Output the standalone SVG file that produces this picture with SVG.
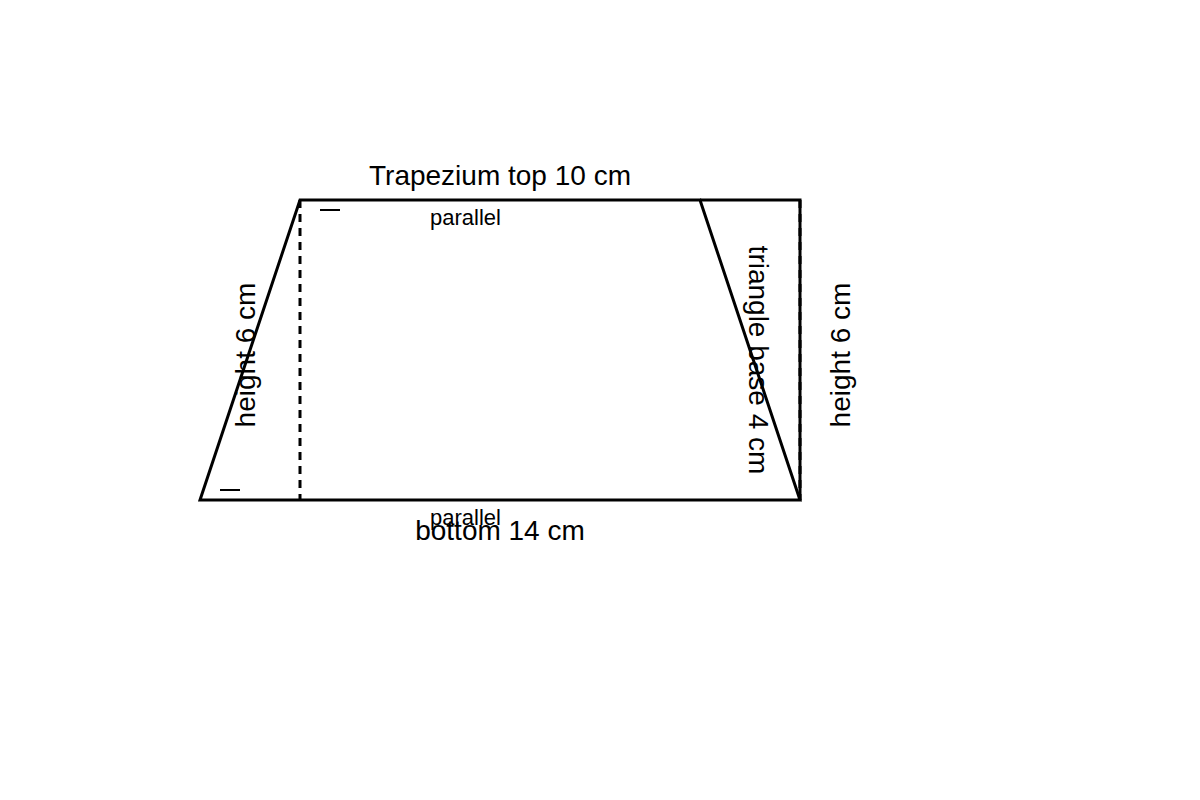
<svg xmlns="http://www.w3.org/2000/svg" width="1200" height="800" viewBox="0 0 1200 800">
<style>
.s{fill:none;stroke:#000;stroke-width:3}
.d{fill:none;stroke:#000;stroke-width:3;stroke-dasharray:8 6}
.t{stroke:#000;stroke-width:2}
text{font-family:"Liberation Sans",Arial,sans-serif;fill:#000}
.big{font-size:28px}
.sm{font-size:22px}
</style>
<rect width="1200" height="800" fill="#fff"/>
<g id="connectors">
<line class="d" x1="300" y1="200" x2="300" y2="500"/>
<line class="d" x1="800" y1="200" x2="800" y2="500"/>
<line class="t" x1="320" y1="210" x2="340" y2="210"/>
<line class="t" x1="220" y1="490" x2="240" y2="490"/>
</g>
<g id="trapezium">
<polygon class="s" points="300,200 700,200 800,500 200,500"/>
</g>
<g id="triangle">
<polyline class="s" points="700,200 800,200 800,500"/>
</g>
<g id="labels">
<text class="big" x="500" y="185" text-anchor="middle">Trapezium top 10 cm</text>
<text class="sm" x="430" y="225">parallel</text>
<text class="sm" x="430" y="525">parallel</text>
<text class="big" x="500" y="540" text-anchor="middle">bottom 14 cm</text>
<text class="big" transform="translate(255,355) rotate(-90)" text-anchor="middle">height 6 cm</text>
<text class="big" transform="translate(850,355) rotate(-90)" text-anchor="middle">height 6 cm</text>
<text class="big" transform="translate(749,360) rotate(90)" text-anchor="middle">triangle base 4 cm</text>
</g>
</svg>
